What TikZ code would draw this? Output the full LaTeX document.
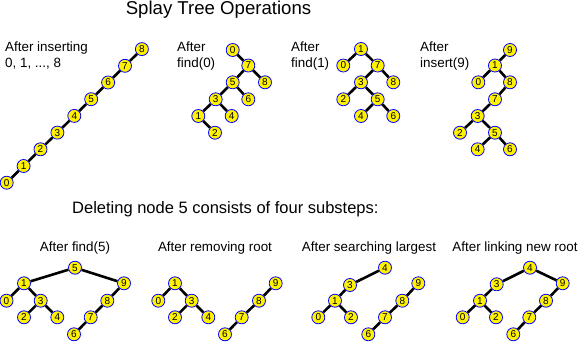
\documentclass[tikz,border=0pt]{standalone}
\usepackage{fontspec}
\setmainfont{Liberation Sans}
\begin{document}
\begin{tikzpicture}[x=1pt,y=-1pt,
  tn/.style={circle, fill=yellow, draw=blue, line width=0.8pt, inner sep=0pt, minimum size=13pt, font=\fontsize{10}{10}\selectfont},
  ed/.style={line width=2.6pt, black},
  lbl/.style={anchor=base west, inner sep=0pt, font=\fontsize{13.4}{13.4}\selectfont},
  clbl/.style={anchor=base, inner sep=0pt, font=\fontsize{13.4}{13.4}\selectfont}]
\useasboundingbox[fill=white] (0,0) rectangle (582,341);

% Titles
\node[anchor=base, inner sep=0pt, font=\fontsize{18.6}{18.6}\selectfont] (title) at (218.5,14) {Splay Tree Operations};
\node[anchor=base west, inner sep=0pt, font=\fontsize{16.5}{16.5}\selectfont] (sub) at (72,213.5) {Deleting node 5 consists of four substeps:};

% Labels top row
\node[lbl] (la1) at (5,51.5) {After inserting};
\node[lbl] (la2) at (5,67) {0, 1, ..., 8};
\node[lbl] (lb1) at (177,51) {After};
\node[lbl] (lb2) at (177,67) {find(0)};
\node[lbl] (lc1) at (291,51) {After};
\node[lbl] (lc2) at (291,67) {find(1)};
\node[lbl] (ld1) at (420,51) {After};
\node[lbl] (ld2) at (420,67) {insert(9)};

% Labels bottom row
\node[clbl] (le) at (75,251) {After find(5)};
\node[clbl] (lf) at (215,251) {After removing root};
\node[clbl] (lg) at (369,251) {After searching largest};
\node[clbl] (lh) at (515,251) {After linking new root};

% Tree A: chain
\foreach \i in {0,...,8} {
  \node[tn] (a\i) at ({6.7+16.9*\i},{182.7-16.7*\i}) {\i};
}
\foreach \i [evaluate=\i as \j using int(\i+1)] in {0,...,7} {
  \draw[ed] (a\i) -- (a\j);
}

% Tree B: find(0)
\node[tn] (b0) at (232.7,50) {0};
\node[tn] (b7) at (248.3,65.5) {7};
\node[tn] (b8) at (265,82.3) {8};
\node[tn] (b5) at (232.7,82.3) {5};
\node[tn] (b6) at (248.3,99.3) {6};
\node[tn] (b3) at (215.7,99.3) {3};
\node[tn] (b4) at (231.7,116) {4};
\node[tn] (b1) at (198.3,116) {1};
\node[tn] (b2) at (215,132.7) {2};
\draw[ed] (b0) -- (b7);
\draw[ed] (b7) -- (b5);
\draw[ed] (b7) -- (b8);
\draw[ed] (b5) -- (b3);
\draw[ed] (b5) -- (b6);
\draw[ed] (b3) -- (b1);
\draw[ed] (b3) -- (b4);
\draw[ed] (b1) -- (b2);

% Tree C: find(1)
\node[tn] (c1) at (361,49) {1};
\node[tn] (c0) at (343.3,65.5) {0};
\node[tn] (c7) at (377.7,65.5) {7};
\node[tn] (c3) at (361,82.3) {3};
\node[tn] (c8) at (393.3,82.3) {8};
\node[tn] (c2) at (343.3,99.3) {2};
\node[tn] (c5) at (377.7,99.3) {5};
\node[tn] (c4) at (361,116) {4};
\node[tn] (c6) at (393.3,116) {6};
\draw[ed] (c1) -- (c0);
\draw[ed] (c1) -- (c7);
\draw[ed] (c7) -- (c3);
\draw[ed] (c7) -- (c8);
\draw[ed] (c3) -- (c2);
\draw[ed] (c3) -- (c5);
\draw[ed] (c5) -- (c4);
\draw[ed] (c5) -- (c6);

% Tree D: insert(9)
\node[tn] (d9) at (510,50) {9};
\node[tn] (d1) at (495,65.5) {1};
\node[tn] (d0) at (478.3,82.3) {0};
\node[tn] (d8) at (510,82.3) {8};
\node[tn] (d7) at (495,99.3) {7};
\node[tn] (d3) at (477.7,116) {3};
\node[tn] (d2) at (460,132.7) {2};
\node[tn] (d5) at (495,132.7) {5};
\node[tn] (d4) at (477.7,149.3) {4};
\node[tn] (d6) at (510,149.3) {6};
\draw[ed] (d9) -- (d1);
\draw[ed] (d1) -- (d0);
\draw[ed] (d1) -- (d8);
\draw[ed] (d8) -- (d7);
\draw[ed] (d7) -- (d3);
\draw[ed] (d3) -- (d2);
\draw[ed] (d3) -- (d5);
\draw[ed] (d5) -- (d4);
\draw[ed] (d5) -- (d6);

% Tree E: after find(5)
\node[tn] (e5) at (75,267.7) {5};
\node[tn] (e1) at (24,283.3) {1};
\node[tn] (e9) at (124,283.3) {9};
\node[tn] (e0) at (6.5,300.7) {0};
\node[tn] (e3) at (40.7,300.7) {3};
\node[tn] (e8) at (107.3,300.7) {8};
\node[tn] (e2) at (24,317.3) {2};
\node[tn] (e4) at (57.3,317.3) {4};
\node[tn] (e7) at (90.7,317.3) {7};
\node[tn] (e6) at (74,334.3) {6};
\draw[ed] (e5) -- (e1);
\draw[ed] (e5) -- (e9);
\draw[ed] (e1) -- (e0);
\draw[ed] (e1) -- (e3);
\draw[ed] (e3) -- (e2);
\draw[ed] (e3) -- (e4);
\draw[ed] (e9) -- (e8);
\draw[ed] (e8) -- (e7);
\draw[ed] (e7) -- (e6);

% Tree F: after removing root
\node[tn] (f1) at (175,283.3) {1};
\node[tn] (f0) at (158.3,300.7) {0};
\node[tn] (f3) at (191.7,300.7) {3};
\node[tn] (f2) at (175,317.3) {2};
\node[tn] (f4) at (208.3,317.3) {4};
\node[tn] (f9) at (275.7,283.3) {9};
\node[tn] (f8) at (259,300.7) {8};
\node[tn] (f7) at (241.7,317.3) {7};
\node[tn] (f6) at (225,334.3) {6};
\draw[ed] (f1) -- (f0);
\draw[ed] (f1) -- (f3);
\draw[ed] (f3) -- (f2);
\draw[ed] (f3) -- (f4);
\draw[ed] (f9) -- (f8);
\draw[ed] (f8) -- (f7);
\draw[ed] (f7) -- (f6);

% Tree G: after searching largest
\node[tn] (g4) at (385,267.7) {4};
\node[tn] (g3) at (350,285) {3};
\node[tn] (g1) at (335,300.7) {1};
\node[tn] (g0) at (318.3,317.3) {0};
\node[tn] (g2) at (351,317.3) {2};
\node[tn] (g9) at (418.3,283.3) {9};
\node[tn] (g8) at (402.3,300.7) {8};
\node[tn] (g7) at (385,317.3) {7};
\node[tn] (g6) at (368.3,334.3) {6};
\draw[ed] (g4) -- (g3);
\draw[ed] (g3) -- (g1);
\draw[ed] (g1) -- (g0);
\draw[ed] (g1) -- (g2);
\draw[ed] (g9) -- (g8);
\draw[ed] (g8) -- (g7);
\draw[ed] (g7) -- (g6);

% Tree H: after linking new root
\node[tn] (h4) at (530,267.7) {4};
\node[tn] (h3) at (496.7,284.3) {3};
\node[tn] (h9) at (562.7,283.3) {9};
\node[tn] (h1) at (480,300.7) {1};
\node[tn] (h8) at (546,300.7) {8};
\node[tn] (h0) at (462.7,317.3) {0};
\node[tn] (h2) at (496,317.3) {2};
\node[tn] (h7) at (529.3,317.3) {7};
\node[tn] (h6) at (513.3,334.3) {6};
\draw[ed] (h4) -- (h3);
\draw[ed] (h4) -- (h9);
\draw[ed] (h3) -- (h1);
\draw[ed] (h1) -- (h0);
\draw[ed] (h1) -- (h2);
\draw[ed] (h9) -- (h8);
\draw[ed] (h8) -- (h7);
\draw[ed] (h7) -- (h6);
\end{tikzpicture}
\end{document}
